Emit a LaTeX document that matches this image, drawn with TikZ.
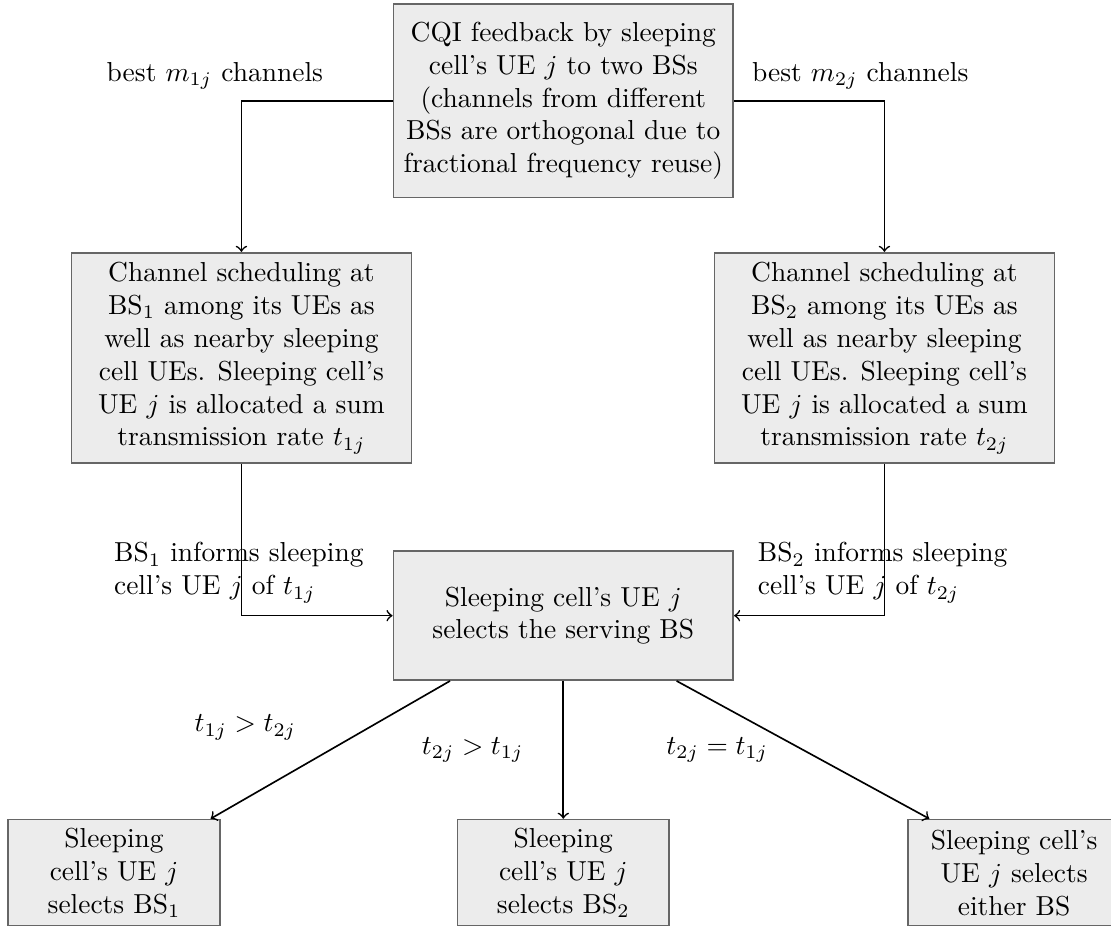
\documentclass[tikz,border=0pt]{standalone}
\usepackage{amsmath}
\begin{document}
\begin{tikzpicture}[
    box/.style={draw=black!60, fill=gray!15, align=center},
    bigbox/.style={box, minimum width=4.35cm},
    endbox/.style={box, minimum width=2.71cm, minimum height=1.36cm, inner ysep=2pt},
    lbl/.style={inner sep=0pt},
    semithick, ->]
\useasboundingbox (0,0) rectangle (14.22,-11.84);
% boxes
\node[bigbox, minimum height=2.48cm] (cqi) at (7.21,-1.29)
    {CQI feedback by sleeping\\ cell's UE $j$ to two BSs\\ (channels from different\\ BSs are orthogonal due to\\ fractional frequency reuse)};
\node[bigbox, minimum height=2.66cm] (sched1) at (3.09,-4.58)
    {Channel scheduling at\\ BS$_1$ among its UEs as\\ well as nearby sleeping\\ cell UEs. Sleeping cell's\\ UE $j$ is allocated a sum\\ transmission rate $t_{1j}$};
\node[bigbox, minimum height=2.66cm] (sched2) at (11.32,-4.58)
    {Channel scheduling at\\ BS$_2$ among its UEs as\\ well as nearby sleeping\\ cell UEs. Sleeping cell's\\ UE $j$ is allocated a sum\\ transmission rate $t_{2j}$};
\node[bigbox, minimum height=1.65cm] (select) at (7.21,-7.88)
    {Sleeping cell's UE $j$\\ selects the serving BS};
\node[endbox] (pick1) at (1.46,-11.17) {Sleeping\\ cell's UE $j$\\ selects BS$_1$};
\node[endbox] (pick2) at (7.21,-11.17) {Sleeping\\ cell's UE $j$\\ selects BS$_2$};
\node[endbox] (either) at (12.98,-11.17) {Sleeping cell's\\ UE $j$ selects\\ either BS};
% labels
\node[lbl] (best1) at (2.75,-0.97) {best $m_{1j}$ channels};
\node[lbl] (best2) at (11.01,-0.97) {best $m_{2j}$ channels};
\node[lbl, anchor=west, align=left] (inform1) at (1.45,-7.33) {BS$_1$ informs sleeping\\ cell's UE $j$ of $t_{1j}$};
\node[lbl, anchor=west, align=left] (inform2) at (9.69,-7.33) {BS$_2$ informs sleeping\\ cell's UE $j$ of $t_{2j}$};
\node[lbl] (cmp1) at (3.14,-9.31) {$t_{1j} > t_{2j}$};
\node[lbl] (cmp2) at (6.05,-9.60) {$t_{2j} > t_{1j}$};
\node[lbl] (cmp3) at (9.18,-9.60) {$t_{2j} = t_{1j}$};
% connectors
\draw (cqi.west) -| (sched1.north);
\draw (cqi.east) -| (sched2.north);
\draw (sched1.south) |- (select.west);
\draw (sched2.south) |- (select.east);
\draw ([xshift=-1.45cm]select.south) -- ([xshift=-0.13cm]pick1.north east);
\draw (select.south) -- (pick2.north);
\draw ([xshift=1.45cm]select.south) -- ([xshift=0.28cm]either.north west);
\end{tikzpicture}
\end{document}
